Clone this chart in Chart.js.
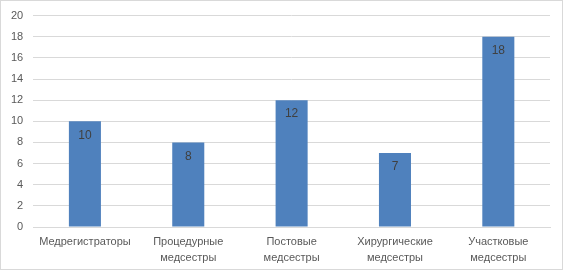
<!DOCTYPE html>
<html>
<head>
<meta charset="utf-8">
<script src="https://cdn.jsdelivr.net/npm/chart.js@4/dist/chart.umd.min.js"></script>
<style>
  html, body { margin: 0; padding: 0; background: #fff; overflow: hidden; }
  #frame { position: absolute; left: 0; top: 0; width: 563px; height: 270px; border: 1px solid #d9d9d9; box-sizing: border-box; z-index: 2; pointer-events: none; }
  #box { position: absolute; left: 1px; top: -1px; width: 561px; height: 271px; }
  canvas { display: block; }
</style>
</head>
<body>
<div id="box"><canvas id="chart"></canvas></div>
<div id="frame"></div>
<script>
const categories = [
  "Медрегистраторы",
  ["Процедурные", "медсестры"],
  ["Постовые", "медсестры"],
  ["Хирургические", "медсестры"],
  ["Участковые", "медсестры"]
];
const values = [10, 8, 12, 7, 18];
const yTicks = [0, 2, 4, 6, 8, 10, 12, 14, 16, 18, 20];

// value labels inside the top of each bar
const barLabels = {
  id: "barLabels",
  afterDatasetsDraw(chart) {
    const ctx = chart.ctx;
    const meta = chart.getDatasetMeta(0);
    ctx.save();
    ctx.font = "12px 'Liberation Sans', Arial, sans-serif";
    ctx.fillStyle = "#404040";
    ctx.textAlign = "center";
    ctx.textBaseline = "middle";
    meta.data.forEach((bar, i) => {
      ctx.fillText(String(values[i]), bar.x, bar.y + 14);
    });
    ctx.restore();
  }
};

document.addEventListener("DOMContentLoaded", () => {
  new Chart(document.getElementById("chart"), {
    type: "bar",
    data: {
      labels: categories,
      datasets: [{
        data: values,
        backgroundColor: "#4f81bd",
        borderWidth: 0,
        categoryPercentage: 1,
        barPercentage: 0.31
      }]
    },
    options: {
      responsive: true,
      maintainAspectRatio: false,
      animation: false,
      layout: { padding: { left: 0, right: 12, top: 8, bottom: -3 } },
      plugins: { legend: { display: false }, tooltip: { enabled: false } },
      scales: {
        x: {
          grid: { display: false, drawTicks: false },
          border: { color: "#d9d9d9" },
          ticks: {
            color: "#595959",
            font: { family: "'Liberation Sans', Arial, sans-serif", size: 11, lineHeight: "16px" },
            padding: 7,
            maxRotation: 0,
            autoSkip: false
          }
        },
        y: {
          min: 0,
          max: 20,
          afterBuildTicks(axis) { axis.ticks = yTicks.map(v => ({ value: v })); },
          grid: { color: "#d9d9d9", drawTicks: false },
          border: { display: false },
          ticks: {
            color: "#595959",
            font: { family: "'Liberation Sans', Arial, sans-serif", size: 11 },
            padding: 10
          }
        }
      }
    },
    plugins: [barLabels]
  });
});
</script>
</body>
</html>
